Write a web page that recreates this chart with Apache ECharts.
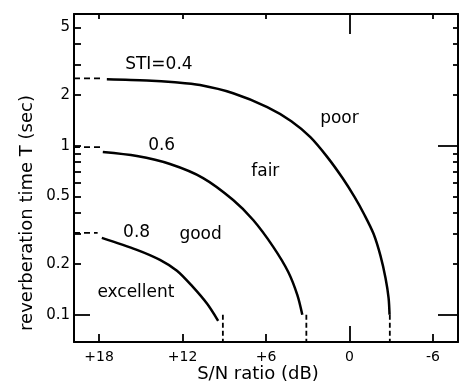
<!DOCTYPE html>
<html>
<head>
<meta charset="utf-8">
<script src="https://cdn.jsdelivr.net/npm/echarts@6/dist/echarts.min.js"></script>
<style>
  html, body { margin: 0; padding: 0; background: #fff; }
  #chart { width: 459px; height: 383px; }
</style>
</head>
<body>
<div id="chart"></div>
<script>
// Reverberation time vs. signal-to-noise ratio, contours of constant STI.

// S/N ratio axis (dB) and reverberation time axis (s)
const snMin = -7.8;
const snMax = 19.8;
const tMin = 0.069;
const tMax = 6.0;
const snTicks = [18, 12, 6, -6];
const snLabels = [18, 12, 6, 0, -6];
const tTicks = [0.2, 0.3, 0.4, 0.5, 0.6, 0.7, 0.8, 0.9, 1, 2, 3, 4, 5];
const tLabels = [0.1, 0.2, 0.5, 1, 2, 5];

// STI = 0.4
const snSti04 = [17.44, 14.56, 12.54, 10.74, 8.36, 5.91, 4.18, 2.81, 1.59, 0.5, -0.36, -1.08, -1.73, -2.23, -2.59, -2.81, -2.88];
const tSti04 = [2.47, 2.43, 2.37, 2.28, 2.04, 1.69, 1.395, 1.122, 0.855, 0.643, 0.497, 0.389, 0.301, 0.223, 0.165, 0.126, 0.1];
// STI = 0.6
const snSti06 = [17.73, 15.28, 12.9, 10.52, 8.36, 6.92, 5.48, 4.4, 3.75, 3.39];
const tSti06 = [0.916, 0.867, 0.778, 0.643, 0.477, 0.363, 0.252, 0.179, 0.131, 0.1];
// STI = 0.8
const snSti08 = [17.8, 15.28, 13.62, 12.4, 11.32, 10.23, 9.44];
const tSti08 = [0.285, 0.242, 0.211, 0.182, 0.148, 0.116, 0.092];

// dashed extrapolations towards the T axis: [sn from, sn to], T
const leadSn = [[19.8, 17.9], [19.8, 17.7], [19.8, 18.1]];
const leadT = [2.5, 0.98, 0.305];
// dashed drops to the S/N axis below T = 0.1
const dropSn = [-2.9, 3.1, 9.1];
const dropTop = 0.1;

// text placed on the chart
const noteText = ['STI=0.4', '0.6', '0.8', 'poor', 'fair', 'good', 'excellent'];
const noteSn = [13.7, 13.5, 15.3, 0.72, 6.05, 10.7, 15.35];
const noteT = [3.03, 1.007, 0.305, 1.45, 0.698, 0.297, 0.135];

const FONT = 'DejaVu Sans';
const INK = '#000';

const zip = (xs, ys) => xs.map((x, i) => [x, ys[i]]);

const series = [];
[[snSti04, tSti04], [snSti06, tSti06], [snSti08, tSti08]].forEach(([xs, ys]) => {
  series.push({
    type: 'line', data: zip(xs, ys), smooth: 0.3, symbol: 'none',
    lineStyle: { color: INK, width: 2.5 }, silent: true, z: 3
  });
});
leadSn.forEach((pair, i) => {
  series.push({
    type: 'line', data: [[pair[0], leadT[i]], [pair[1], leadT[i]]], symbol: 'none',
    lineStyle: { color: INK, width: 1.8, type: [6, 4] }, silent: true
  });
});
dropSn.forEach(sn => {
  series.push({
    type: 'line', data: [[sn, dropTop], [sn, tMin]], symbol: 'none',
    lineStyle: { color: INK, width: 1.8, type: [5, 3] }, silent: true
  });
});
series.push({
  type: 'scatter', symbolSize: 0, silent: true,
  itemStyle: { opacity: 1 },
  data: noteText.map((t, i) => ({ value: [noteSn[i], noteT[i]], name: t })),
  label: {
    show: true, position: 'inside', formatter: p => p.name, opacity: 1,
    fontFamily: FONT, fontSize: 17, color: INK, align: 'center', verticalAlign: 'middle'
  }
});

const baseX = (pos, ticks, len, showLine, labels) => ({
  type: 'value', position: pos, inverse: true, min: snMin, max: snMax,
  axisLine: { show: showLine, onZero: false, lineStyle: { color: INK, width: 2 } },
  axisTick: { show: true, inside: true, length: len, customValues: ticks, lineStyle: { color: INK, width: 1.8 } },
  axisLabel: labels ? {
    show: true, customValues: labels, margin: 8, fontFamily: FONT, fontSize: 14, color: INK,
    formatter: v => (v > 0 ? '+' + v : String(v))
  } : { show: false },
  splitLine: { show: false }
});
const baseY = (pos, ticks, len, showLine, labels) => ({
  type: 'log', logBase: 10, position: pos, min: tMin, max: tMax,
  axisLine: { show: showLine, onZero: false, lineStyle: { color: INK, width: 2 } },
  axisTick: { show: true, inside: true, length: len, customValues: ticks, lineStyle: { color: INK, width: 1.8 } },
  axisLabel: labels ? {
    show: true, customValues: labels, margin: 4, fontFamily: FONT, fontSize: 15, color: INK,
    formatter: v => String(+(+v).toPrecision(3))
  } : { show: false },
  splitLine: { show: false }, minorTick: { show: false }
});

const chart = echarts.init(document.getElementById('chart'), null, { renderer: 'canvas' });
chart.setOption({
  animation: false,
  backgroundColor: '#fff',
  grid: { left: 74, right: 1, top: 14, bottom: 41, containLabel: false },
  xAxis: [
    baseX('bottom', snTicks, 8, true, snLabels),
    baseX('bottom', [0], 16, false, null),
    baseX('top', snTicks, 5, true, null),
    baseX('top', [0], 20, false, null)
  ],
  yAxis: [
    baseY('left', tTicks, 7, true, tLabels),
    baseY('left', [0.1], 16, false, null),
    baseY('right', [0.2, 0.3, 0.4, 0.5, 0.6, 0.7, 0.8, 0.9, 2, 3, 4, 5], 5, true, null),
    baseY('right', [0.1, 1], 20, false, null)
  ],
  graphic: [
    { type: 'text', x: 258, y: 374, style: { text: 'S/N ratio (dB)', font: '18px "DejaVu Sans"', fill: INK, align: 'center', verticalAlign: 'middle' } },
    { type: 'text', x: 27, y: 213, rotation: Math.PI / 2, style: { text: 'reverberation time T (sec)', font: '18px "DejaVu Sans"', fill: INK, align: 'center', verticalAlign: 'middle' } }
  ],
  series: series
});
</script>
</body>
</html>
